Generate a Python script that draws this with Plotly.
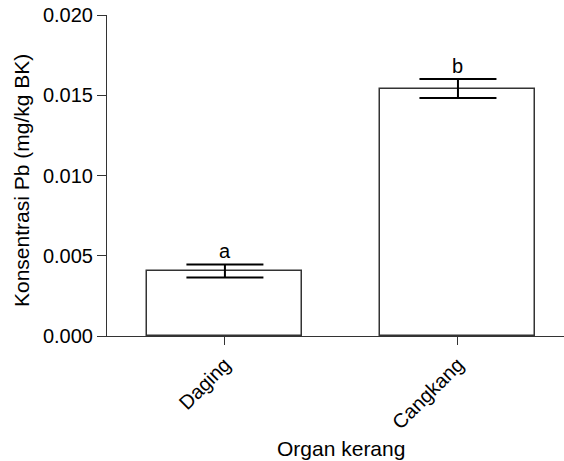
import plotly.graph_objects as go

categories = ["Daging", "Cangkang"]
means = [0.00405, 0.01542]
errors = [0.00041, 0.00059]
letters = ["a", "b"]
y_ticks = [0.000, 0.005, 0.010, 0.015, 0.020]
y_tick_labels = ["0.000", "0.005", "0.010", "0.015", "0.020"]

FONT = "Liberation Sans, Arial, sans-serif"
LINE = "#333333"

fig = go.Figure()
fig.add_trace(go.Bar(
    x=[0, 1], y=means,
    width=0.665,
    marker=dict(color="white", line=dict(color=LINE, width=1.5)),
    error_y=dict(type="data", array=errors, visible=True,
                 color="black", thickness=2, width=38.5),
    showlegend=False,
))

for i, (m, e, t) in enumerate(zip(means, errors, letters)):
    fig.add_annotation(x=i, y=m + e, text=t, showarrow=False,
                       yanchor="bottom", yshift=0,
                       font=dict(family=FONT, size=20, color="black"))

# axis titles as annotations for precise placement
fig.add_annotation(xref="paper", yref="paper", x=0.512, y=-0.349,
                   text="Organ kerang", showarrow=False,
                   xanchor="center", yanchor="middle",
                   font=dict(family=FONT, size=21, color="black"))
fig.add_annotation(xref="paper", yref="paper", x=-0.186, y=0.486,
                   text="Konsentrasi Pb (mg/kg BK)", showarrow=False,
                   textangle=-90, xanchor="center", yanchor="middle",
                   font=dict(family=FONT, size=21, color="black"))

fig.update_layout(
    width=564, height=461,
    margin=dict(l=107, r=0, t=15, b=125),
    plot_bgcolor="white", paper_bgcolor="white",
    font=dict(family=FONT, size=20, color="black"),
    bargap=0,
)
fig.update_xaxes(
    range=[-0.506, 1.455], automargin=False,
    tickvals=[0, 1], ticktext=categories, tickangle=-45,
    ticks="outside", ticklen=8, tickcolor=LINE, tickwidth=1,
    showline=True, linecolor=LINE, linewidth=1,
    showgrid=False, zeroline=False,
    tickfont=dict(family=FONT, size=20),
)
fig.update_yaxes(
    range=[0, 0.0200001], automargin=False,
    tickvals=y_ticks, ticktext=y_tick_labels,
    ticks="outside", ticklen=9, tickcolor=LINE, tickwidth=1,
    showline=True, linecolor=LINE, linewidth=1,
    showgrid=False, zeroline=False, ticklabeloverflow="allow",
    tickfont=dict(family=FONT, size=20),
)

# remove the default 8px page margin so the figure fills the window exactly
fig.write_html("out.html",
               config={"displayModeBar": False},
               post_script="document.body.style.margin='0';")
